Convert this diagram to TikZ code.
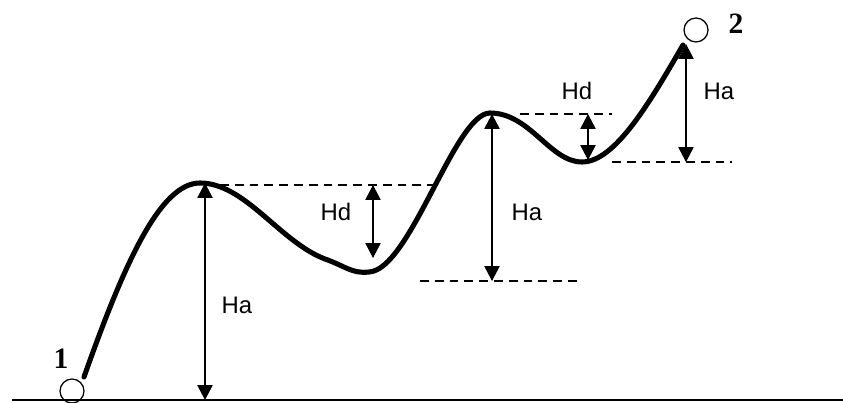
\documentclass[tikz,border=0pt]{standalone}
\usepackage{fontspec}
\setmainfont{Liberation Serif}
\setsansfont{Liberation Sans}
\usetikzlibrary{arrows.meta}
\tikzset{
  ground/.style={line width=1pt},
  route/.style={line width=3.6pt,line cap=round},
  level/.style={line width=0.9pt,dash pattern=on 0.22cm off 0.15cm},
  height/.style={line width=0.9pt,{Triangle[width=0.38cm,length=0.37cm]}-{Triangle[width=0.38cm,length=0.37cm]}},
  station/.style={circle,draw,line width=0.9pt,minimum size=0.6cm,inner sep=0pt},
  stationlbl/.style={font=\fontsize{21}{24}\selectfont\bfseries},
  hlbl/.style={font=\fontsize{17}{20}\selectfont\sffamily}
}
\begin{document}
\begin{tikzpicture}[x=0.025cm,y=0.025cm]
  \useasboundingbox (0,0) rectangle (843,402);
  % ground
  \coordinate (g0) at (12,2);
  \coordinate (g1) at (843,2);
  \draw[ground] (g0) -- (g1);
  % stations
  \node[station] (s1) at (72,11) {};
  \node[station] (s2) at (696,372) {};
  \node[stationlbl] (n1) at (61,43) {1};
  \node[stationlbl] (n2) at (736,378) {2};
  % route points
  \coordinate (r0) at (84,25);
  \coordinate (top1) at (200,219);
  \coordinate (low1) at (369,130);
  \coordinate (top2) at (490,289);
  \coordinate (low2) at (582,240);
  \coordinate (r1) at (683,357);
  \draw[route] (r0) .. controls (124,138) and (160,219) .. (top1)
    .. controls (245,219) and (280,160) .. (325,143)
    .. controls (345,136) and (352,128) .. (low1)
    .. controls (410,132) and (455,289) .. (top2)
    .. controls (530,289) and (550,240) .. (low2)
    .. controls (615,240) and (650,300) .. (r1);
  % levels
  \coordinate (d1a) at (220,217);
  \coordinate (d1b) at (440,217);
  \coordinate (d2a) at (420,121);
  \coordinate (d2b) at (582,121);
  \coordinate (d3a) at (520,288);
  \coordinate (d3b) at (612,288);
  \coordinate (d4a) at (612,240);
  \coordinate (d4b) at (732,240);
  \draw[level] (d1a) -- (d1b);
  \draw[level] (d2a) -- (d2b);
  \draw[level] (d3a) -- (d3b);
  \draw[level] (d4a) -- (d4b);
  % heights
  \coordinate (a1t) at (205,219);
  \coordinate (a1b) at (205,2);
  \coordinate (h1t) at (373,217);
  \coordinate (h1b) at (373,144);
  \coordinate (a2t) at (492,288);
  \coordinate (a2b) at (492,121);
  \coordinate (h2t) at (588,288);
  \coordinate (h2b) at (588,242);
  \coordinate (a3t) at (686,358);
  \coordinate (a3b) at (686,240);
  \draw[height] (a1t) -- (a1b);
  \draw[height] (h1t) -- (h1b);
  \draw[height] (a2t) -- (a2b);
  \draw[height] (h2t) -- (h2b);
  \draw[height] (a3t) -- (a3b);
  \node[hlbl] (ha1) at (237,97) {Ha};
  \node[hlbl] (hd1) at (336,190) {Hd};
  \node[hlbl] (ha2) at (527,190) {Ha};
  \node[hlbl] (hd2) at (577,311) {Hd};
  \node[hlbl] (ha3) at (719,311) {Ha};
\end{tikzpicture}
\end{document}
